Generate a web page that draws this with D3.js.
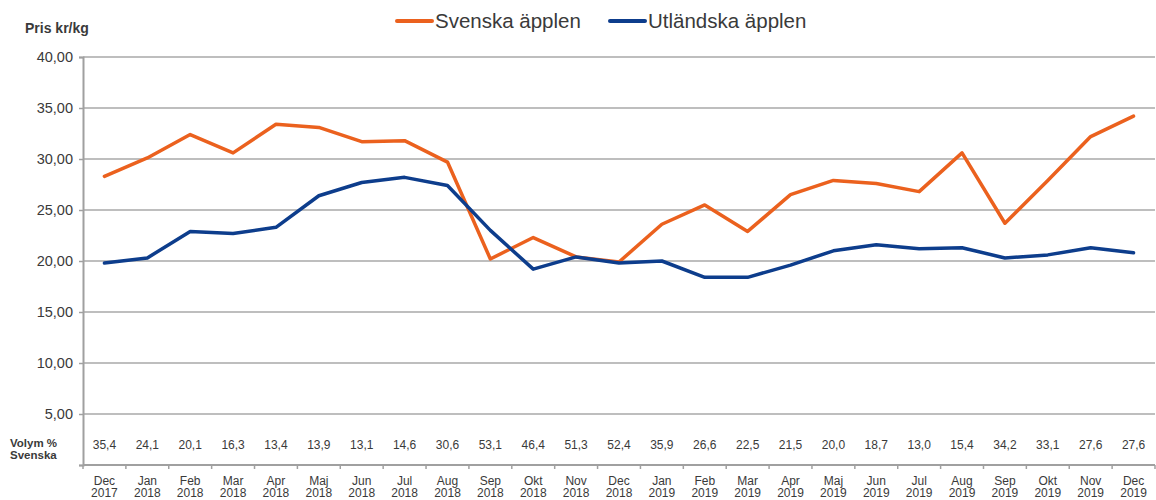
<!DOCTYPE html>
<html>
<head>
<meta charset="utf-8">
<script src="https://cdn.jsdelivr.net/npm/d3@7"></script>
<style>
  body { margin: 0; background: #fff; }
  text { font-family: Arial, "Liberation Sans", sans-serif; fill: #3a3a3a; }
</style>
</head>
<body>
<div id="chart"></div>
<script>
// months on x axis (two-line labels)
const months = ["Dec", "Jan", "Feb", "Mar", "Apr", "Maj", "Jun", "Jul", "Aug", "Sep", "Okt", "Nov",
                "Dec", "Jan", "Feb", "Mar", "Apr", "Maj", "Jun", "Jul", "Aug", "Sep", "Okt", "Nov", "Dec"];
const years = ["2017", "2018", "2018", "2018", "2018", "2018", "2018", "2018", "2018", "2018", "2018", "2018",
               "2018", "2019", "2019", "2019", "2019", "2019", "2019", "2019", "2019", "2019", "2019", "2019", "2019"];

// price kr/kg
const svenska = [28.3, 30.1, 32.4, 30.6, 33.4, 33.1, 31.7, 31.8, 29.7, 20.2, 22.3, 20.4,
                 19.9, 23.6, 25.5, 22.9, 26.5, 27.9, 27.6, 26.8, 30.6, 23.7, 27.9, 32.2, 34.2];
const utlandska = [19.8, 20.3, 22.9, 22.7, 23.3, 26.4, 27.7, 28.2, 27.4, 23.0, 19.2, 20.4,
                   19.8, 20.0, 18.4, 18.4, 19.6, 21.0, 21.6, 21.2, 21.3, 20.3, 20.6, 21.3, 20.8];

// volym % svenska
const volym = ["35,4", "24,1", "20,1", "16,3", "13,4", "13,9", "13,1", "14,6", "30,6", "53,1", "46,4", "51,3",
               "52,4", "35,9", "26,6", "22,5", "21,5", "20,0", "18,7", "13,0", "15,4", "34,2", "33,1", "27,6", "27,6"];

const yTicks = [5, 10, 15, 20, 25, 30, 35, 40];

const width = 1156, height = 500;
const mLeft = 83, mRight = 1155, mTop = 57, mBottom = 465;

const svg = d3.select("#chart").append("svg")
    .attr("width", width)
    .attr("height", height);

const idx = d3.range(months.length);

const x = d3.scaleBand()
    .domain(idx)
    .range([mLeft, mRight]);

const y = d3.scaleLinear()
    .domain([0, 40])
    .range([mBottom, mTop]);

const cx = i => x(i) + x.bandwidth() / 2;

// gridlines
svg.append("g")
    .selectAll("line")
    .data(yTicks)
    .join("line")
    .attr("x1", mLeft)
    .attr("x2", mRight)
    .attr("y1", d => y(d))
    .attr("y2", d => y(d))
    .attr("stroke", "#a8a8a8")
    .attr("stroke-width", 1.5);

// y axis
const yAxis = svg.append("g")
    .attr("transform", `translate(${mLeft},0)`)
    .call(d3.axisLeft(y).tickValues([0, ...yTicks]).tickSize(4).tickPadding(6)
        .tickFormat(d => d === 0 ? "" : d3.format(".2f")(d).replace(".", ",")));
yAxis.select(".domain").attr("stroke", "#a0a0a0").attr("stroke-width", 2);
yAxis.selectAll(".tick line").attr("stroke", "#a0a0a0").attr("stroke-width", 1.5);
yAxis.selectAll(".tick text").attr("font-size", 14.5).attr("fill", "#3a3a3a");

// bottom axis line with ticks between categories
svg.append("line")
    .attr("x1", mLeft).attr("x2", mRight)
    .attr("y1", mBottom).attr("y2", mBottom)
    .attr("stroke", "#a0a0a0").attr("stroke-width", 2);

svg.append("g")
    .selectAll("line")
    .data(d3.range(months.length + 1))
    .join("line")
    .attr("x1", d => mLeft + d * x.bandwidth())
    .attr("x2", d => mLeft + d * x.bandwidth())
    .attr("y1", mBottom)
    .attr("y2", mBottom + 4)
    .attr("stroke", "#a0a0a0")
    .attr("stroke-width", 1.5);

// month labels
const lbl = svg.append("g").selectAll("text")
    .data(idx)
    .join("text")
    .attr("text-anchor", "middle")
    .attr("font-size", 12)
    .attr("x", d => cx(d));
lbl.append("tspan").attr("x", d => cx(d)).attr("y", 485).text(d => months[d]);
lbl.append("tspan").attr("x", d => cx(d)).attr("y", 497).text(d => years[d]);

// volym row
svg.append("g").selectAll("text")
    .data(idx)
    .join("text")
    .attr("text-anchor", "middle")
    .attr("font-size", 12)
    .attr("x", d => cx(d))
    .attr("y", 449)
    .text(d => volym[d]);

svg.append("text").attr("x", 10).attr("y", 447)
    .attr("font-size", 11.5).attr("font-weight", "bold").text("Volym %");
svg.append("text").attr("x", 10).attr("y", 459)
    .attr("font-size", 11.5).attr("font-weight", "bold").text("Svenska");

// axis title
svg.append("text").attr("x", 25).attr("y", 33)
    .attr("font-size", 14).attr("font-weight", "bold").text("Pris kr/kg");

// lines
const line = d3.line()
    .x((d, i) => cx(i))
    .y(d => y(d));

const series = [
    { name: "Svenska äpplen", values: svenska, color: "#eb611e", lx: 397 },
    { name: "Utländska äpplen", values: utlandska, color: "#0d3d8c", lx: 610 }
];

svg.append("g").selectAll("path")
    .data(series)
    .join("path")
    .attr("d", d => line(d.values))
    .attr("fill", "none")
    .attr("stroke", d => d.color)
    .attr("stroke-width", 3.5)
    .attr("stroke-linejoin", "round")
    .attr("stroke-linecap", "round");

// legend
const leg = svg.append("g").selectAll("g")
    .data(series)
    .join("g");
leg.append("line")
    .attr("x1", d => d.lx).attr("x2", d => d.lx + 35)
    .attr("y1", 21).attr("y2", 21)
    .attr("stroke", d => d.color)
    .attr("stroke-width", 4)
    .attr("stroke-linecap", "round");
leg.append("text")
    .attr("x", d => d.lx + 38)
    .attr("y", 28)
    .attr("font-size", 20.5)
    .text(d => d.name);
</script>
</body>
</html>
